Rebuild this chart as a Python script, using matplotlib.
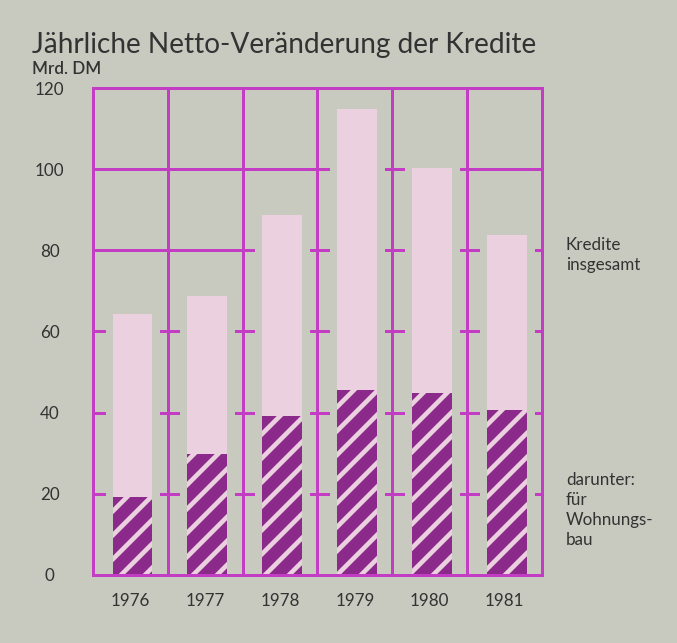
import matplotlib.pyplot as plt
import numpy as np

# values (Mrd. DM)
years = ['1976', '1977', '1978', '1979', '1980', '1981']
kredite_insgesamt = [64.2, 68.8, 88.8, 114.9, 100.3, 83.9]
wohnungsbau = [19.2, 29.7, 39.1, 45.7, 44.8, 40.7]
y_ticks = [0, 20, 40, 60, 80, 100, 120]

BG = '#c8c9bf'
PINK = '#ebd0df'
PURPLE = '#8c2a8c'
LINE = '#c23cc4'
TEXT = '#333333'

plt.rcParams['font.family'] = ['Lato', 'DejaVu Sans']
plt.rcParams['hatch.linewidth'] = 2.3

DPI = 144
fig = plt.figure(figsize=(677 / DPI, 643 / DPI), dpi=DPI, facecolor=BG)
ax = fig.add_axes([0.137, 0.1058, 0.6637, 0.7573])
ax.set_facecolor(BG)

x = np.arange(len(years))
bar_x = x + 0.03  # bars sit a touch right of the column centres
bar_w = 0.53

# full grid lines, broken by a halo around each bar
for v in y_ticks[1:-1]:
    ax.axhline(v, color=LINE, lw=1.5, zorder=1)
for b in x[:-1] + 0.5:
    ax.axvline(b, color=LINE, lw=1.5, zorder=5)

ax.bar(bar_x, kredite_insgesamt, width=bar_w, color=BG, edgecolor=BG,
       linewidth=7.5, zorder=2)
ax.bar(bar_x, kredite_insgesamt, width=bar_w, color=PINK, linewidth=0, zorder=3)
ax.bar(bar_x, wohnungsbau, width=bar_w, color=PURPLE, edgecolor=PINK,
       hatch='//', linewidth=0, zorder=4)

ax.set_xlim(-0.5, len(years) - 0.5)
ax.set_ylim(0, 120)
for s in ax.spines.values():
    s.set_color(LINE)
    s.set_linewidth(1.5)
    s.set_zorder(6)

ax.set_xticks(x, labels=years)
ax.set_yticks(y_ticks, labels=[str(v) for v in y_ticks], ha='center')
ax.tick_params(length=0, colors=TEXT, labelsize=8.5)
ax.tick_params(axis='x', pad=9)
ax.tick_params(axis='y', pad=21.5)

fig.text(0.047, 0.918, 'Jährliche Netto-Veränderung der Kredite',
         fontsize=14, color=TEXT, va='baseline')
fig.text(0.047, 0.885, 'Mrd. DM', fontsize=8.5, color=TEXT,
         fontweight='semibold', va='baseline')

fig.text(0.836, 0.603, 'Kredite\ninsgesamt', fontsize=8.5, color=TEXT,
         va='center', linespacing=1.3)
fig.text(0.836, 0.207, 'darunter:\nfür\nWohnungs-\nbau', fontsize=8.5,
         color=TEXT, va='center', linespacing=1.3)

fig.savefig('out.png', dpi=DPI, facecolor=BG)
